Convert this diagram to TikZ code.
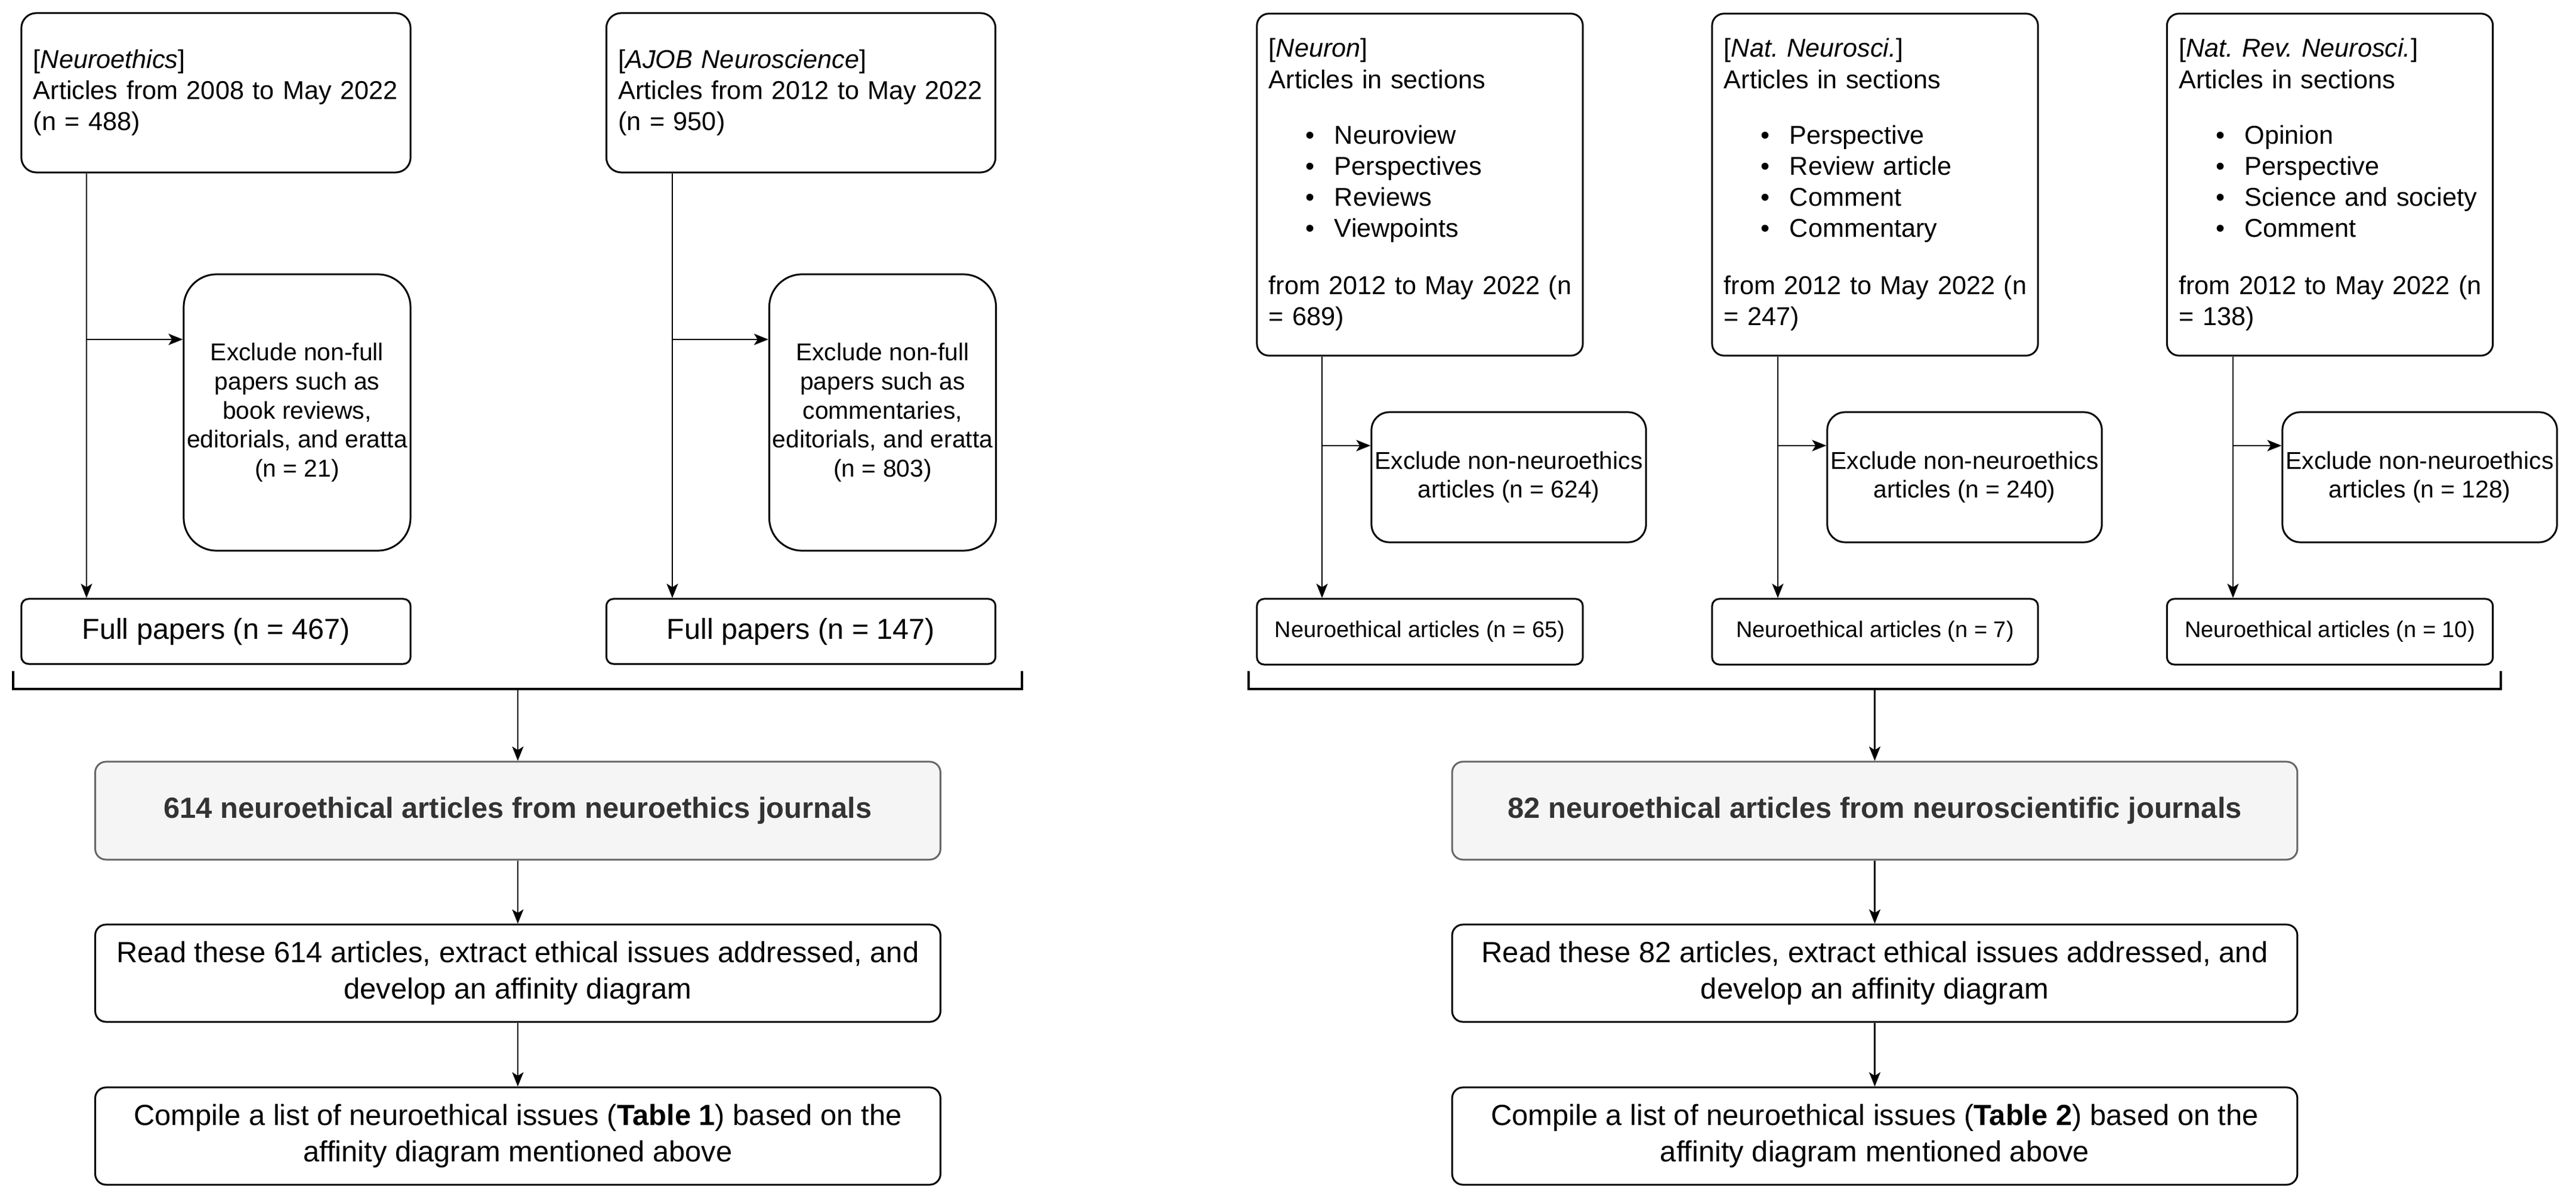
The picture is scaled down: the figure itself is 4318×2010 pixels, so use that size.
\documentclass[tikz,border=0pt]{standalone}
\usepackage{fontspec}
\setmainfont{Liberation Sans}
\usetikzlibrary{arrows.meta,calc}
\frenchspacing
\definecolor{gfill}{HTML}{F5F5F5}
\definecolor{gline}{HTML}{666666}
\definecolor{gtext}{HTML}{333333}
\newcommand\fTop{\fontsize{12.3pt}{14.8pt}\selectfont\frenchspacing}
\newcommand\fExc{\fontsize{11.6pt}{13.9pt}\selectfont}
\newcommand\fFull{\fontsize{13.8pt}{16.5pt}\selectfont}
\newcommand\fSmall{\fontsize{10.8pt}{13pt}\selectfont}
\newcommand\fLow{\fontsize{13.9pt}{17.4pt}\selectfont}
\newcommand\bitem[1]{\hspace*{0.62cm}\makebox[0.48cm][l]{\textbullet}#1}
\begin{document}
\begin{tikzpicture}[x=0.01cm,y=-0.01cm,
  box/.style={draw=black, line width=0.85pt, inner sep=0pt},
  topbox/.style={box, rounded corners=0.25cm, inner xsep=0.2cm, align=left, font=\fTop},
  secbox/.style={box, rounded corners=0.2cm, inner xsep=0.2cm, align=left, font=\fTop,
    minimum width=5.46cm, minimum height=5.73cm, text width=5.06cm},
  excbox/.style={box, rounded corners=0.55cm, align=center, font=\fExc,
    minimum width=3.80cm, minimum height=4.63cm},
  excsbox/.style={box, rounded corners=0.3cm, align=center, font=\fExc,
    minimum width=4.60cm, minimum height=2.18cm},
  fullbox/.style={box, rounded corners=0.12cm, align=center, font=\fFull,
    minimum width=6.52cm, minimum height=1.09cm},
  artbox/.style={box, rounded corners=0.12cm, align=center, font=\fSmall,
    minimum width=5.46cm, minimum height=1.10cm},
  greybox/.style={draw=gline, fill=gfill, text=gtext, line width=0.85pt, inner sep=0pt,
    rounded corners=0.18cm, align=center, font=\fLow\bfseries,
    minimum width=14.16cm, minimum height=1.64cm},
  lowbox/.style={box, rounded corners=0.18cm, align=center, font=\fLow,
    minimum width=14.16cm, minimum height=1.63cm},
  arr/.style={-{Stealth[length=0.24cm,width=0.19cm,inset=0.06cm]}, line width=0.7pt},
  brk/.style={line width=1.3pt}
]
\useasboundingbox (0,0) rectangle (4318,2010);

% ---------------- left part ----------------
\node[topbox, minimum width=6.52cm, minimum height=2.67cm, text width=6.12cm] (srcA) at (362,155.5)
  {[\textit{Neuroethics}]\\Articles from 2008 to May 2022\\(n = 488)};
\node[topbox, minimum width=6.52cm, minimum height=2.67cm, text width=6.12cm] (srcB) at (1342.5,155.5)
  {[\textit{AJOB Neuroscience}]\\Articles from 2012 to May 2022\\(n = 950)};

\node[excbox] (excA) at (498,691.5)
  {Exclude non-full\\papers such as\\book reviews,\\editorials, and eratta\\(n = 21)};
\node[excbox] (excB) at (1479.5,691.5)
  {Exclude non-full\\papers such as\\commentaries,\\editorials, and eratta\\(n = 803)};

\node[fullbox] (fullA) at (362,1058.5) {Full papers (n = 467)};
\node[fullbox] (fullB) at (1342.5,1058.5) {Full papers (n = 147)};

\node[greybox] (greyA) at (868,1359) {614 neuroethical articles from neuroethics journals};
\node[lowbox] (readA) at (868,1631.5)
  {Read these 614 articles, extract ethical issues addressed, and\\develop an affinity diagram};
\node[lowbox] (compA) at (868,1904.5)
  {Compile a list of neuroethical issues (\textbf{Table 1}) based on the\\affinity diagram mentioned above};

\coordinate (jA) at (145,0);
\coordinate (jB) at (1127,0);
\coordinate (bL) at (0,569);

\draw[arr] (srcA.south -| jA) -- (fullA.north -| jA);
\draw[arr] (jA |- bL) -- (excA.west |- bL);
\draw[arr] (srcB.south -| jB) -- (fullB.north -| jB);
\draw[arr] (jB |- bL) -- (excB.west |- bL);

\coordinate (bl1) at (22,1125);
\coordinate (bl2) at (22,1155);
\coordinate (bl3) at (1713,1155);
\coordinate (bl4) at (1713,1125);
\draw[brk] (bl1) -- (bl2) -- (bl3) -- (bl4);
\draw[arr] (greyA.north |- bl2) -- (greyA.north);
\draw[arr] (greyA) -- (readA);
\draw[arr] (readA) -- (compA);

% ---------------- right part ----------------
\node[secbox] (srcN) at (2380,309.5)
  {[\textit{Neuron}]\\Articles in sections\\[0.41cm]
   \bitem{Neuroview}\\\bitem{Perspectives}\\\bitem{Reviews}\\\bitem{Viewpoints}\\[0.44cm]
   \mbox{from 2012 to May 2022 (n}\\= 689)};
\node[secbox] (srcNN) at (3143,309.5)
  {[\textit{Nat. Neurosci.}]\\Articles in sections\\[0.41cm]
   \bitem{Perspective}\\\bitem{Review article}\\\bitem{Comment}\\\bitem{Commentary}\\[0.44cm]
   \mbox{from 2012 to May 2022 (n}\\= 247)};
\node[secbox] (srcNRN) at (3905.5,309.5)
  {[\textit{Nat. Rev. Neurosci.}]\\Articles in sections\\[0.41cm]
   \bitem{Opinion}\\\bitem{Perspective}\\\bitem{Science and society}\\\bitem{Comment}\\[0.44cm]
   \mbox{from 2012 to May 2022 (n}\\= 138)};

\node[excsbox] (excN) at (2529,800) {Exclude non-neuroethics\\articles (n = 624)};
\node[excsbox] (excNN) at (3293,800) {Exclude non-neuroethics\\articles (n = 240)};
\node[excsbox] (excNRN) at (4056,800) {Exclude non-neuroethics\\articles (n = 128)};

\node[artbox] (artN) at (2380,1059) {Neuroethical articles (n = 65)};
\node[artbox] (artNN) at (3143,1059) {Neuroethical articles (n = 7)};
\node[artbox] (artNRN) at (3905.5,1059) {Neuroethical articles (n = 10)};

\node[greybox] (greyB) at (3142.5,1359) {82 neuroethical articles from neuroscientific journals};
\node[lowbox] (readB) at (3142.5,1631.5)
  {Read these 82 articles, extract ethical issues addressed, and\\develop an affinity diagram};
\node[lowbox] (compB) at (3142.5,1904.5)
  {Compile a list of neuroethical issues (\textbf{Table 2}) based on the\\affinity diagram mentioned above};

\coordinate (jN) at (2216,0);
\coordinate (jNN) at (2980,0);
\coordinate (jNRN) at (3743,0);
\coordinate (bR) at (0,747);

\draw[arr] (srcN.south -| jN) -- (artN.north -| jN);
\draw[arr] (jN |- bR) -- (excN.west |- bR);
\draw[arr] (srcNN.south -| jNN) -- (artNN.north -| jNN);
\draw[arr] (jNN |- bR) -- (excNN.west |- bR);
\draw[arr] (srcNRN.south -| jNRN) -- (artNRN.north -| jNRN);
\draw[arr] (jNRN |- bR) -- (excNRN.west |- bR);

\coordinate (br1) at (2093,1125);
\coordinate (br2) at (2093,1155);
\coordinate (br3) at (4192,1155);
\coordinate (br4) at (4192,1125);
\draw[brk] (br1) -- (br2) -- (br3) -- (br4);
\draw[arr] (greyB.north |- br2) -- (greyB.north);
\draw[arr] (greyB) -- (readB);
\draw[arr] (readB) -- (compB);
\end{tikzpicture}
\end{document}
